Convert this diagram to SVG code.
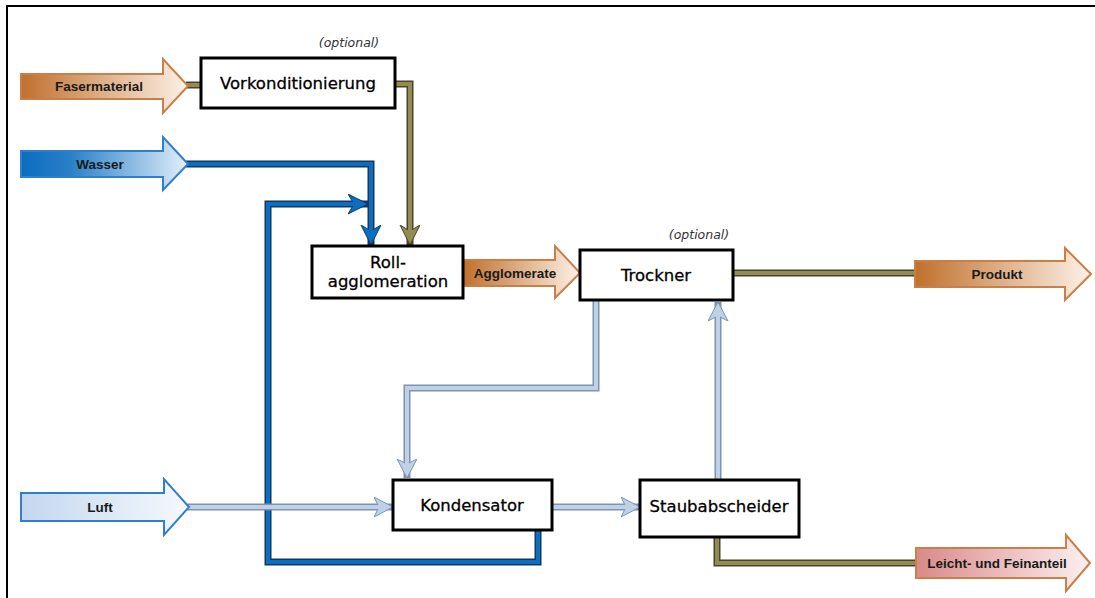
<svg xmlns="http://www.w3.org/2000/svg" width="1095" height="598" viewBox="0 0 1095 598">
<style>
.box{fill:#fff;stroke:#000;stroke-width:3}
.lbl{font-family:"DejaVu Sans",Verdana,sans-serif;font-size:16.5px;fill:#000;stroke:#000;stroke-width:0.3;text-anchor:middle}
.alb{font-family:"Liberation Sans",Arial,sans-serif;font-size:13.5px;font-weight:bold;fill:#1a1a1a;text-anchor:middle}
.opt{font-family:"DejaVu Sans",Verdana,sans-serif;font-size:12.5px;font-style:italic;fill:#333;text-anchor:middle}
.fat{stroke-width:2;stroke-linejoin:miter}
.or{fill:url(#gOr);stroke:#c98048}
.bl{fill:url(#gBl);stroke:#2f7fcc}
.lb{fill:url(#gLb);stroke:#2f7fcc}
.ro{fill:url(#gRo);stroke:#c98048}
.p{fill:none;stroke-linejoin:miter}
.bO{stroke:#17375e;stroke-width:7}
.bI{stroke:#0a6fc0;stroke-width:4}
.oO{stroke:#4a452a;stroke-width:7}
.oI{stroke:#948a54;stroke-width:4}
.lO{stroke:#7d93ae;stroke-width:7}
.lI{stroke:#bfd1e8;stroke-width:4}
</style>
<defs>
<linearGradient id="gOr" x1="0" y1="0" x2="1" y2="0"><stop offset="0" stop-color="#c0702d"/><stop offset="1" stop-color="#fdf1e7"/></linearGradient>
<linearGradient id="gBl" x1="0" y1="0" x2="1" y2="0"><stop offset="0" stop-color="#0b6cc0"/><stop offset="0.3" stop-color="#2b80c8"/><stop offset="1" stop-color="#e2effa"/></linearGradient>
<linearGradient id="gLb" x1="0" y1="0" x2="1" y2="0"><stop offset="0" stop-color="#c3d7ef"/><stop offset="1" stop-color="#f6f9fd"/></linearGradient>
<linearGradient id="gRo" x1="0" y1="0" x2="1" y2="0"><stop offset="0" stop-color="#d98a88"/><stop offset="1" stop-color="#fcf0f0"/></linearGradient>
<marker id="mB" markerUnits="userSpaceOnUse" markerWidth="22" markerHeight="22" refX="20" refY="10" orient="auto" viewBox="0 0 22 22"><path d="M0,0 L20,10 L0,20 L6,10 Z" fill="#0a6fc0" stroke="#17375e" stroke-width="1"/></marker>
<marker id="mO" markerUnits="userSpaceOnUse" markerWidth="22" markerHeight="22" refX="20" refY="10" orient="auto" viewBox="0 0 22 22"><path d="M0,0 L20,10 L0,20 L6,10 Z" fill="#948a54" stroke="#4a452a" stroke-width="1"/></marker>
<marker id="mL" markerUnits="userSpaceOnUse" markerWidth="22" markerHeight="22" refX="19" refY="10" orient="auto" viewBox="0 0 22 22"><path d="M0,0 L19,10 L0,20 L5,10 Z" fill="#bfd1e8" stroke="#7d93ae" stroke-width="1"/></marker>
</defs>
<rect width="1095" height="598" fill="#fff"/>
<path d="M7,598 V6 H1095" fill="none" stroke="#000" stroke-width="2"/>

<g id="connectors">
<path class="p oO" d="M186,85 H201"/><path class="p oI" d="M186,85 H201"/>
<path class="p oO" d="M395,84 H410 V245" marker-end="url(#mO)"/><path class="p oI" d="M395,84 H410 V232"/>
<path class="p bO" d="M186,164 H371 V245" marker-end="url(#mB)"/><path class="p bI" d="M186,164 H371 V232"/>
<path class="p bO" d="M538,531 V562 H268 V204 H368" marker-end="url(#mB)"/><path class="p bI" d="M538,531 V562 H268 V204 H355"/>
<path class="p oO" d="M733,273 H916"/><path class="p oI" d="M733,273 H916"/>
<path class="p lO" d="M596,301 V388 H407 V478" marker-end="url(#mL)"/><path class="p lI" d="M596,301 V388 H407 V465"/>
<path class="p lO" d="M718,480 V302" marker-end="url(#mL)"/><path class="p lI" d="M718,480 V315"/>
<path class="p lO" d="M187,507 H393" marker-end="url(#mL)"/><path class="p lI" d="M187,507 H380"/>
<path class="p lO" d="M552,507 H640" marker-end="url(#mL)"/><path class="p lI" d="M552,507 H627"/>
<path class="p oO" d="M717,537 V563 H917"/><path class="p oI" d="M717,537 V563 H917"/>
</g>

<g id="fasermaterial">
<polygon class="fat or" points="21,74 163,74 163,59 188,86 163,113 163,99 21,99"/>
<text class="alb" x="99" y="91">Fasermaterial</text>
</g>
<g id="wasser">
<polygon class="fat bl" points="21,151 163,151 163,137 188,164 163,190 163,177 21,177"/>
<text class="alb" x="100" y="169">Wasser</text>
</g>
<g id="luft">
<polygon class="fat lb" points="21,493 164,493 164,479 189,507 164,535 164,521 21,521"/>
<text class="alb" x="100" y="512">Luft</text>
</g>
<g id="agglomerate">
<polygon class="fat or" points="463,260 555,260 555,246 580,273 555,298 555,286 463,286"/>
<text class="alb" x="515" y="278">Agglomerate</text>
</g>
<g id="produkt">
<polygon class="fat or" points="915,261 1065,261 1065,248 1091,274 1065,300 1065,287 915,287"/>
<text class="alb" x="997" y="279">Produkt</text>
</g>
<g id="leicht">
<polygon class="fat ro" points="916,548 1066,548 1066,535 1090,563 1066,591 1066,578 916,578"/>
<text class="alb" x="997" y="568">Leicht- und Feinanteil</text>
</g>

<g id="vorkonditionierung">
<rect class="box" x="201" y="58" width="194" height="50"/>
<text class="lbl" x="298" y="89">Vorkonditionierung</text>
<text class="opt" x="349" y="47">(optional)</text>
</g>
<g id="rollagglomeration">
<rect class="box" x="312" y="246" width="151" height="52"/>
<text class="lbl" x="388" y="268">Roll-</text>
<text class="lbl" x="388" y="287">agglomeration</text>
</g>
<g id="trockner">
<rect class="box" x="580" y="250" width="153" height="50"/>
<text class="lbl" x="656" y="281">Trockner</text>
<text class="opt" x="699" y="239">(optional)</text>
</g>
<g id="kondensator">
<rect class="box" x="393" y="480" width="159" height="50"/>
<text class="lbl" x="472" y="511">Kondensator</text>
</g>
<g id="staubabscheider">
<rect class="box" x="640" y="480" width="159" height="57"/>
<text class="lbl" x="719" y="512">Staubabscheider</text>
</g>
</svg>
